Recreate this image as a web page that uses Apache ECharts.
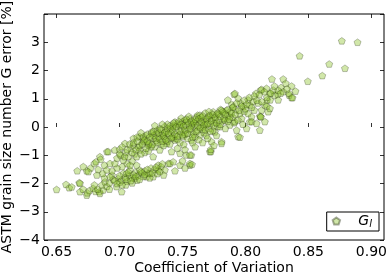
<!DOCTYPE html>
<html>
<head>
<meta charset="utf-8">
<script src="https://cdn.jsdelivr.net/npm/echarts@6/dist/echarts.min.js"></script>
<style>
html, body { margin: 0; padding: 0; background: #fff; }
#main { width: 387px; height: 275px; }
</style>
</head>
<body>
<div id="main"></div>
<script>
// coefficient of variation (x) and grain size number error in % (y)
var cv = [
    // lower branch
    0.650,0.6575,0.660,0.662,0.668,0.6686,0.671,0.674,0.6744,0.676,0.679,0.681,0.684,0.6844,0.687,0.686,
    0.6884,0.690,0.692,0.694,0.695,0.6977,0.699,0.700,0.7017,0.7017,0.703,0.7045,0.7056,0.706,0.708,0.7083,
    0.710,0.712,0.713,0.7136,0.715,0.716,0.718,0.7215,0.720,0.7228,0.7241,0.725,0.7267,0.728,0.7307,0.7307,
    0.733,0.736,0.7387,0.740,0.7426,0.748,0.750,0.7559,0.7559,0.7575,0.6739,0.680,0.6826,0.696,
    0.710,0.706,0.702,0.698,0.694,0.688,0.677,0.682,0.688,0.692,0.698,0.705,0.710,0.714,0.719,0.724,
    0.730,0.735,0.744,0.752,
    0.700,0.702,0.705,0.707,0.709,0.711,0.713,0.716,0.717,0.720,0.722,0.726,0.729,0.732,0.734,
    // upper branch at low cv
    0.6664,0.6712,0.6752,0.6686,0.680,0.6813,0.683,0.6844,0.685,0.6866,0.6898,0.690,0.691,0.6924,0.6924,0.6963,
    0.6963,0.698,0.700,0.701,0.703,0.7043,0.705,0.707,0.7083,0.709,0.7109,0.711,0.712,0.7136,0.715,0.716,
    0.7162,0.7188,0.720,0.7228,0.7267,0.728,0.732,0.7374,0.7413,0.748,0.753,0.757,0.7559,0.7717,0.7725,0.7725,
    0.700,0.702,0.704,0.706,0.708,0.710,0.711,0.713,0.714,0.716,0.717,0.719,0.721,0.723,0.725,
    // main band
    0.7188,0.720,0.722,0.7255,0.7255,0.724,0.726,0.7294,0.729,0.730,0.731,0.732,0.733,0.734,0.7347,0.736,
    0.736,0.737,0.738,0.739,0.740,0.741,0.7426,0.7426,0.743,0.744,0.745,0.746,0.747,0.748,0.748,0.749,
    0.750,0.7506,0.751,0.752,0.753,0.7533,0.754,0.755,0.756,0.7571,0.7571,0.758,0.7585,0.759,0.760,0.761,
    0.762,0.762,0.7638,0.7638,0.764,0.7664,0.7664,0.767,0.768,0.769,0.770,0.771,0.772,0.773,0.773,0.7744,
    0.775,0.7757,0.777,0.778,0.7797,0.780,0.781,0.781,0.781,0.782,0.7837,0.785,0.786,0.786,0.7876,0.7876,
    0.789,0.7902,0.791,0.791,0.7916,0.7916,0.793,0.7942,0.7942,0.7956,0.7956,0.797,0.7982,0.799,0.8009,0.8021,
    0.8021,0.8035,0.8035,0.8048,0.805,0.8061,0.807,0.8083,0.8088,0.810,0.8114,0.8114,0.812,0.812,0.8122,0.8128,
    0.8128,0.8154,0.8154,0.8167,0.817,0.8172,0.818,0.8194,0.8194,0.8196,0.821,0.822,0.8233,0.8257,0.826,0.8283,
    0.830,0.830,0.832,0.8347,0.8347,0.8366,0.8366,0.8374,0.8397,0.843,0.8495,0.861,0.8665,0.8765,0.879,0.889,
    0.738,0.740,0.742,0.744,0.746,0.749,0.751,0.752,0.755,0.757,0.758,0.760,0.761,0.763,0.765,0.766,
    0.768,0.769,0.771,0.772,0.774,0.776,0.777,0.779,0.780,0.783,0.784,0.786,0.788,0.790,0.792,0.794,
    0.796,0.798,0.800,0.727,0.723,0.721,0.718,0.714,0.717,0.728,0.734,0.735,0.746,0.752,0.760,0.766,
    0.770,0.775,
    0.722,0.724,0.726,0.727,0.729,0.730,0.731,0.732,0.733,0.734,0.735,0.736,0.737,0.738,0.739,0.740,
    0.741,0.742,0.743,0.744,0.745,0.746,0.747,0.748,0.749,0.750,0.751,0.752,0.753,0.754,0.755,0.756,
    0.757,0.758,0.759,0.760,0.761,0.762,0.763,0.764,0.765,0.766,0.767,0.768,0.769,0.770,0.771,0.772,
    0.773,0.774,0.775,0.776,0.777,0.778,0.779,0.780,0.782,0.783,0.784,0.786,0.787,0.789,0.790,0.792,
    0.793,0.795,0.797,0.799,0.801,0.803,0.805,0.807,0.809,0.811,0.813,0.815,0.817,0.820,0.823,0.826,
    0.828,0.833
];
var gError = [
    -2.21,-2.03,-2.15,-2.12,-1.97,-2.29,-2.20,-2.41,-2.33,-2.25,-2.17,-2.28,-2.29,-2.35,-2.23,-2.05,
    -1.94,-2.10,-1.98,-1.70,-1.85,-2.11,-1.82,-1.95,-1.88,-2.29,-1.64,-1.78,-1.64,-1.92,-1.72,-1.52,
    -1.80,-1.82,-1.60,-1.35,-1.70,-1.52,-1.62,-1.76,-1.55,-1.64,-1.64,-1.45,-1.76,-1.50,-1.52,-1.35,
    -1.40,-1.52,-1.29,-1.29,-1.23,-1.35,-1.20,-1.35,-1.29,-1.32,-1.55,-2.05,-2.20,-1.90,
    -1.20,-1.30,-1.40,-1.45,-1.55,-1.35,-1.45,-1.70,-1.80,-2.20,-2.00,-2.05,-1.98,-1.88,-1.75,-1.80,
    -1.65,-1.70,-1.55,-1.45,
    -1.72,-2.05,-1.85,-1.60,-1.90,-1.68,-1.75,-1.85,-1.58,-1.68,-1.50,-1.62,-1.42,-1.58,-1.30,
    -1.55,-1.40,-1.58,-1.99,-1.29,-1.23,-1.50,-1.05,-1.14,-1.64,-1.52,-0.87,-0.87,-1.29,-1.76,-0.81,
    -1.29,-1.10,-0.79,-1.00,-1.17,-0.58,-0.90,-1.05,-1.35,-0.75,-0.64,-0.40,-0.95,-1.05,-0.72,-0.34,
    -0.81,-0.52,-0.90,-0.64,-1.05,-0.70,-0.81,-0.58,-0.87,-0.93,-0.99,-0.99,-0.99,-0.87,-0.87,-0.79,
    -0.95,-0.70,-1.05,-0.80,-0.60,-0.90,-0.55,-0.80,-0.35,-0.65,-0.95,-0.45,-0.30,-0.85,-0.70,
    -0.34,-0.45,-0.25,-0.17,-0.22,-0.55,-0.40,-0.22,-0.48,-0.10,-0.35,-0.05,-0.60,-0.28,-0.22,-0.40,
    0.02,-0.15,-0.50,-0.30,-0.05,-0.20,0.07,0.01,-0.40,-0.46,-0.12,0.12,-0.28,0.07,-0.55,-0.05,
    0.20,-0.34,-0.18,0.25,0.05,0.19,-0.40,-0.08,0.30,-0.17,-0.46,0.10,0.19,-0.25,0.00,0.35,
    0.42,-0.10,0.42,-0.28,0.15,0.25,0.01,-0.20,0.50,0.08,0.30,-0.05,0.40,0.31,-0.52,0.54,
    0.15,-0.17,0.45,0.02,0.01,0.62,0.60,-0.52,-0.58,0.22,0.25,0.60,0.96,0.40,0.07,0.36,
    0.80,0.72,1.16,0.15,0.19,1.19,-0.11,1.02,-0.34,0.48,-0.36,0.30,0.72,0.55,-0.05,0.96,
    0.48,0.78,0.19,0.36,0.19,0.90,0.60,1.19,0.13,0.85,0.39,-0.11,1.31,0.37,0.36,1.33,
    0.60,0.78,0.19,1.37,0.74,0.96,0.54,1.19,0.66,0.96,1.70,1.31,1.13,1.16,0.96,1.40,
    1.70,1.25,1.55,1.13,1.19,1.45,1.04,1.04,1.27,2.52,1.62,1.82,2.23,3.05,2.08,3.00,
    0.10,-0.60,-0.35,0.18,-0.42,0.32,-0.62,-0.25,0.38,0.05,-0.55,-0.35,0.20,-0.45,0.35,-0.08,
    0.18,-0.30,0.55,0.12,-0.12,0.28,-0.30,0.45,0.10,0.50,-0.05,0.20,0.55,0.35,0.62,0.25,
    0.85,0.10,0.65,-0.30,-0.60,-0.75,-0.60,-0.50,-0.20,0.05,0.10,-0.65,-0.75,-0.80,-0.70,-0.55,
    -0.40,-0.65,
    -0.50,-0.35,-0.62,-0.15,-0.40,-0.55,-0.20,-0.42,-0.08,-0.50,-0.32,-0.18,-0.45,-0.05,-0.22,0.05,
    -0.38,-0.10,0.15,-0.25,0.02,-0.32,0.20,-0.15,0.10,-0.28,0.05,-0.10,0.28,-0.22,0.12,-0.05,
    0.22,-0.35,0.15,0.28,-0.15,0.05,0.30,-0.02,0.18,0.40,0.08,-0.10,0.30,0.12,0.40,-0.15,
    0.22,0.45,0.05,0.35,0.15,0.50,0.25,0.38,0.55,0.30,0.45,0.62,0.28,0.50,0.70,0.45,
    0.85,0.60,0.75,0.95,0.80,1.05,0.70,1.10,0.95,1.15,0.90,1.25,1.05,1.20,1.45,1.30,
    1.20,1.35
];
var xTicks = { min: 0.65, max: 0.90, step: 0.05 };
var yTicks = { min: -4, max: 4, step: 1 };

var pentagon = 'path://M0,-1L0.951,-0.309L0.588,0.809L-0.588,0.809L-0.951,-0.309Z';
var font = 'DejaVu Sans';

var points = [];
for (var i = 0; i < cv.length; i++) {
    points.push([cv[i], gError[i]]);
}

function minus(v) {
    return String(v).replace('-', '\u2212');
}

var tickIn = { show: true, inside: true, length: 4, lineStyle: { color: '#000', width: 0.8 } };

var option = {
    animation: false,
    textStyle: { fontFamily: font },
    grid: [
        { left: 44, right: 3, top: 14, bottom: 35, show: true, borderColor: '#000', borderWidth: 1,
          outerBoundsMode: 'none', containLabel: false },
        // overlay grid spanning 0.65..0.90 only, for x ticks and labels
        { left: 56.6, right: 15.6, top: 14, bottom: 35, show: false,
          outerBoundsMode: 'none', containLabel: false }
    ],
    xAxis: [
        {
            type: 'value', gridIndex: 0, min: 0.64, max: 0.91,
            axisLine: { show: false }, axisTick: { show: false },
            axisLabel: { show: false }, splitLine: { show: false }
        },
        {
            type: 'value', gridIndex: 1, position: 'bottom',
            min: xTicks.min, max: xTicks.max, interval: xTicks.step,
            axisLine: { show: false }, axisTick: tickIn, splitLine: { show: false },
            axisLabel: {
                color: '#000', fontSize: 14, fontFamily: font, margin: 5,
                formatter: function (v) { return v.toFixed(2); }
            },
            name: 'Coefficient of Variation', nameLocation: 'middle', nameGap: 21,
            nameMoveOverlap: false,
            nameTextStyle: { color: '#000', fontSize: 14, fontFamily: font }
        },
        {
            type: 'value', gridIndex: 1, position: 'top',
            min: xTicks.min, max: xTicks.max, interval: xTicks.step,
            axisLine: { show: false }, axisTick: tickIn,
            axisLabel: { show: false }, splitLine: { show: false }
        }
    ],
    yAxis: [
        {
            type: 'value', gridIndex: 0, position: 'left',
            min: yTicks.min, max: yTicks.max, interval: yTicks.step,
            axisLine: { show: false }, axisTick: tickIn, splitLine: { show: false },
            axisLabel: {
                color: '#000', fontSize: 14, fontFamily: font, margin: 4,
                formatter: function (v) { return v === yTicks.max ? '' : minus(v); }
            },
            name: 'ASTM grain size number G error [%]', nameLocation: 'middle', nameGap: 30,
            nameMoveOverlap: false,
            nameTextStyle: { color: '#000', fontSize: 14, fontFamily: font }
        },
        {
            type: 'value', gridIndex: 0, position: 'right',
            min: yTicks.min, max: yTicks.max, interval: yTicks.step,
            axisLine: { show: false }, axisTick: tickIn,
            axisLabel: { show: false }, splitLine: { show: false }
        },
        {
            type: 'value', gridIndex: 1, show: false, min: yTicks.min, max: yTicks.max
        }
    ],
    legend: {
        right: 8, bottom: 44,
        padding: [2, 7, 2, 5],
        backgroundColor: '#fff',
        borderColor: '#000', borderWidth: 1, borderRadius: 0,
        itemWidth: 24, itemHeight: 7,
        data: [{ name: 'Gl', icon: pentagon }],
        formatter: function () { return '{g|G}{s|l}'; },
        textStyle: {
            padding: [0, 0, 0, 5],
            rich: {
                g: { fontSize: 14, fontStyle: 'italic', fontFamily: font, color: '#000' },
                s: { fontSize: 10, fontStyle: 'italic', fontFamily: font, color: '#000', verticalAlign: 'bottom', padding: [6, 0, 0, 0] }
            }
        }
    },
    series: [
        {
            name: 'Gl',
            type: 'scatter',
            xAxisIndex: 0, yAxisIndex: 0,
            symbol: pentagon,
            symbolKeepAspect: true,
            symbolSize: 7,
            itemStyle: {
                color: 'rgba(140,195,40,0.5)',
                borderColor: 'rgba(30,40,10,0.5)',
                borderWidth: 0.7
            },
            data: points
        }
    ]
};

var myChart = echarts.init(document.getElementById('main'));
myChart.setOption(option);
</script>
</body>
</html>
